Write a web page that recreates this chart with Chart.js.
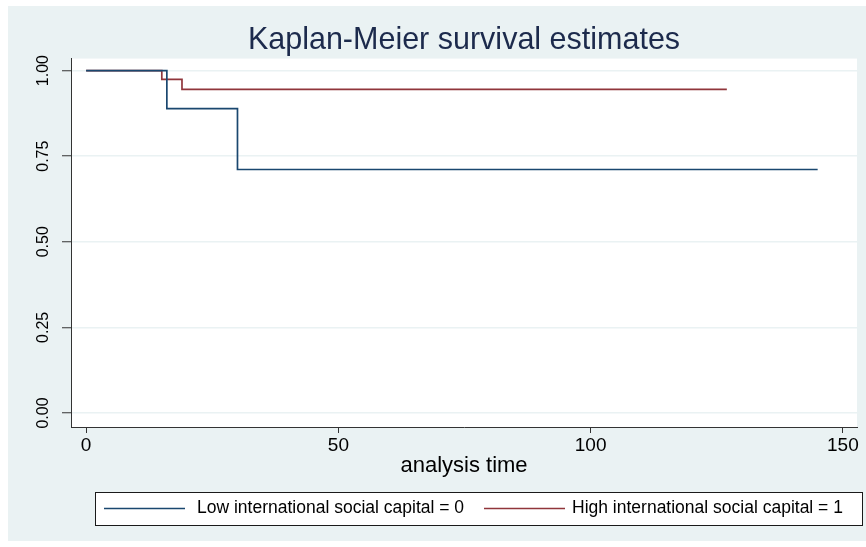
<!DOCTYPE html>
<html>
<head>
<meta charset="utf-8">
<script src="https://cdn.jsdelivr.net/npm/chart.js@4"></script>
<style>
  html, body { margin: 0; padding: 0; background: #ffffff; }
  #wrap { width: 866px; height: 547px; }
</style>
</head>
<body>
<div id="wrap"><canvas id="kmChart" width="866" height="547"></canvas></div>
<script>
// Kaplan-Meier estimates
const lowTime = [0, 16, 30, 145];
const lowSurv = [1.0, 0.889, 0.711, 0.711];
const highTime = [0, 15, 19, 127];
const highSurv = [1.0, 0.974, 0.945, 0.945];

const groupLabels = ['Low international social capital = 0', 'High international social capital = 1'];
const xTicks = [0, 50, 100, 150];
const yTicks = [0, 0.25, 0.5, 0.75, 1.0];

const FONT = "'Liberation Sans', Arial, sans-serif";
const BG = '#eaf2f3';

function toPoints(t, s) {
    return t.map((v, i) => ({ x: v, y: s[i] }));
}

// background + white plot region
const backgroundPlugin = {
    id: 'stataBackground',
    afterLayout: function(chart) {
        // centre the title over the plot region, like Stata does
        const t = chart.titleBlock;
        if (t) {
            t.left = chart.chartArea.left;
            t.right = chart.chartArea.right;
            t.width = t.right - t.left;
        }
    },
    beforeDraw: function(chart) {
        const ctx = chart.ctx;
        const a = chart.chartArea;
        ctx.save();
        ctx.fillStyle = BG;
        ctx.fillRect(8, 6, chart.width - 8, 535);
        ctx.fillStyle = '#ffffff';
        ctx.fillRect(a.left, a.top, a.right - a.left, a.bottom - a.top);
        ctx.restore();
    }
};

// boxed legend under the axis title
const boxLegendPlugin = {
    id: 'boxLegend',
    afterDraw: function(chart) {
        const ctx = chart.ctx;
        const ds = chart.data.datasets;
        const items = [{ x0: 104, x1: 185, tx: 197 }, { x0: 484, x1: 565, tx: 572 }];
        ctx.save();
        ctx.fillStyle = '#ffffff';
        ctx.fillRect(95, 492, 768, 34);
        ctx.strokeStyle = '#1a1a1a';
        ctx.lineWidth = 1;
        ctx.strokeRect(95.5, 492.5, 767, 33);
        ctx.font = '17.5px ' + FONT;
        ctx.textBaseline = 'middle';
        ctx.textAlign = 'left';
        items.forEach((it, i) => {
            ctx.strokeStyle = ds[i].borderColor;
            ctx.lineWidth = 1.5;
            ctx.beginPath();
            ctx.moveTo(it.x0, 508.5);
            ctx.lineTo(it.x1, 508.5);
            ctx.stroke();
            ctx.fillStyle = '#000000';
            ctx.fillText(ds[i].label, it.tx, 508);
        });
        ctx.restore();
    }
};

const ctx = document.getElementById('kmChart').getContext('2d');
const kmChart = new Chart(ctx, {
    type: 'line',
    data: {
        datasets: [{
            label: groupLabels[0],
            data: toPoints(lowTime, lowSurv),
            borderColor: '#1a476f',
            backgroundColor: '#1a476f',
            borderWidth: 1.7,
            stepped: true,
            pointRadius: 0,
            fill: false
        }, {
            label: groupLabels[1],
            data: toPoints(highTime, highSurv),
            borderColor: '#90353b',
            backgroundColor: '#90353b',
            borderWidth: 1.7,
            stepped: true,
            pointRadius: 0,
            fill: false
        }]
    },
    options: {
        responsive: false,
        animation: false,
        layout: { padding: { top: 6, right: 9, bottom: 68, left: 0 } },
        scales: {
            x: {
                type: 'linear',
                min: -3,
                max: 152.8,
                afterBuildTicks: function(s) { s.ticks = xTicks.map(v => ({ value: v })); },
                afterFit: function(s) { s.height = 52; },
                grid: { drawOnChartArea: false, tickLength: 6, tickColor: '#333333', tickWidth: 1 },
                border: { color: '#333333', width: 1 },
                ticks: {
                    color: '#000000',
                    padding: 1,
                    maxRotation: 0,
                    font: { family: FONT, size: 19 }
                },
                title: {
                    display: true,
                    text: 'analysis time',
                    color: '#000000',
                    padding: 0,
                    font: { family: FONT, size: 22 }
                }
            },
            y: {
                type: 'linear',
                min: -0.041,
                max: 1.035,
                afterBuildTicks: function(s) { s.ticks = yTicks.map(v => ({ value: v })); },
                afterFit: function(s) { s.width = 71; },
                grid: { color: BG, lineWidth: 1.5, tickLength: 9, tickColor: '#333333', tickWidth: 1 },
                border: { color: '#333333', width: 1 },
                ticks: {
                    color: '#000000',
                    minRotation: 90,
                    maxRotation: 90,
                    crossAlign: 'center',
                    padding: 3,
                    font: { family: FONT, size: 16 },
                    callback: function(v) { return v.toFixed(2); }
                }
            }
        },
        plugins: {
            legend: { display: false },
            tooltip: { enabled: false },
            title: {
                display: true,
                text: 'Kaplan-Meier survival estimates',
                color: '#1c2a4c',
                font: { family: FONT, size: 30.5, weight: 'normal', lineHeight: 1.15 },
                padding: { top: 17.5, bottom: 0 }
            }
        }
    },
    plugins: [backgroundPlugin, boxLegendPlugin]
});
</script>
</body>
</html>
